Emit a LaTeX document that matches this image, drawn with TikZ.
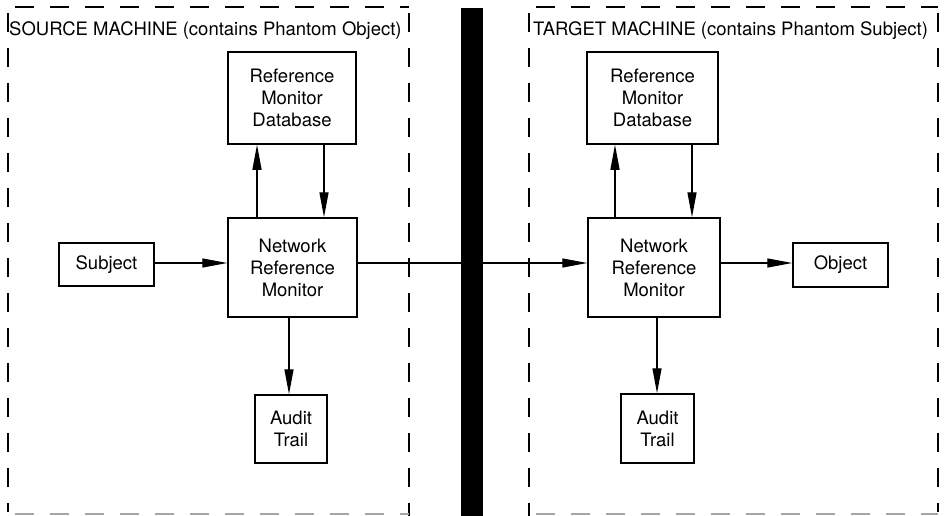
\documentclass[tikz,border=0pt]{standalone}
\usepackage{fontspec}
\setmainfont{TeX Gyre Heros}
\usetikzlibrary{arrows.meta}
\tikzset{
  box/.style={draw, line width=1.5pt, align=center, inner sep=0pt,
    font=\fontsize{18.5}{22}\selectfont},
  arr/.style={line width=1.3pt, -{Triangle[length=25pt,width=9pt]}},
  plainline/.style={line width=1.3pt},
  border/.style={line width=1.6pt, dash pattern=on 19pt off 16pt},
  faintborder/.style={line width=1.6pt, dash pattern=on 19pt off 16pt, black!35},
  titletext/.style={anchor=base west, inner sep=0pt, font=\fontsize{18.5}{22}\selectfont},
}
\begin{document}
\begin{tikzpicture}[x=1pt,y=-1pt]
\useasboundingbox (0,0) rectangle (950,516);

% dashed machine borders
\draw[border] (15,7) -- (409,7);
\draw[border, dash phase=-5pt] (8,8) -- (8,512);
\draw[border, dash phase=-5pt] (409,8) -- (409,516);
\draw[faintborder] (15,514) -- (409,514);
\draw[border] (536,7) -- (938,7);
\draw[border, dash phase=-5pt] (529,8) -- (529,516);
\draw[border, dash phase=-5pt] (938,8) -- (938,512);
\draw[faintborder] (536,514) -- (938,514);

% titles
\node[titletext] (tl) at (9,36) {SOURCE MACHINE (contains Phantom Object)};
\node[titletext] (tr) at (533,36) {TARGET MACHINE (contains Phantom Subject)};

% source machine
\node[box, minimum width=128pt, minimum height=92pt] (dbL) at (292,98) {Reference\\Monitor\\Database};
\node[box, minimum width=129pt, minimum height=99pt] (nrmL) at (292.5,267.5) {Network\\Reference\\Monitor};
\node[box, minimum width=95pt, minimum height=43pt] (subj) at (106.5,264.5) {Subject};
\node[box, minimum width=72pt, minimum height=68pt] (audL) at (291,429) {Audit\\Trail};

% target machine
\node[box, minimum width=131pt, minimum height=92pt] (dbR) at (652.5,98) {Reference\\Monitor\\Database};
\node[box, minimum width=132pt, minimum height=99pt] (nrmR) at (654,267.5) {Network\\Reference\\Monitor};
\node[box, minimum width=95pt, minimum height=44pt] (obj) at (840.5,265) {Object};
\node[box, minimum width=73pt, minimum height=69pt] (audR) at (657.5,428.5) {Audit\\Trail};

% x positions of vertical connectors
\coordinate (xa) at (257,0);
\coordinate (xb) at (324,0);
\coordinate (xc) at (289,0);
\coordinate (xd) at (615,0);
\coordinate (xe) at (692,0);
\coordinate (xf) at (657,0);
\coordinate (ym) at (0,263);

% connectors
\draw[arr] (subj.east |- ym) -- (nrmL.west |- ym);
\draw[arr] (nrmL.north -| xa) -- (dbL.south -| xa);
\draw[arr] (dbL.south -| xb) -- (nrmL.north -| xb);
\draw[arr] (nrmL.south -| xc) -- (audL.north -| xc);
\draw[arr] (nrmL.east |- ym) -- (nrmR.west |- ym);
\draw[arr] (nrmR.north -| xd) -- (dbR.south -| xd);
\draw[arr] (dbR.south -| xe) -- (nrmR.north -| xe);
\draw[arr] (nrmR.south -| xf) -- (audR.north -| xf);
\draw[arr] (nrmR.east |- ym) -- (obj.west |- ym);

% black separating bar
\fill[black] (461,8) rectangle (483,516);
\end{tikzpicture}
\end{document}
